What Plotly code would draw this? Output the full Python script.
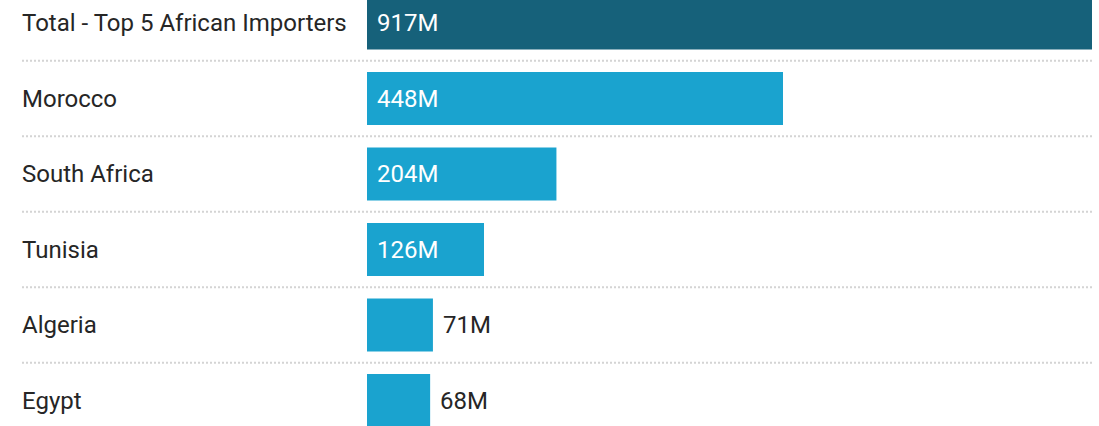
import plotly.graph_objects as go

# Import values, in millions
countries = ["Total - Top 5 African Importers", "Morocco", "South Africa",
             "Tunisia", "Algeria", "Egypt"]
values = [917, 448, 204, 126, 71, 68]
value_labels = ["917M", "448M", "204M", "126M", "71M", "68M"]
label_inside = [True, True, True, True, False, False]

DARK = "#16617a"
LIGHT = "#1aa3cf"
TEXT = "#262626"
FONT = "Roboto"
FS = 24

W, H = 1099, 426
ML, MR = 367, 7
plot_w = W - ML - MR
row_px = 75.5
first_center_px = 23

positions = list(range(len(countries)))
colors = [DARK] + [LIGHT] * (len(countries) - 1)

fig = go.Figure(go.Bar(
    x=values,
    y=positions,
    orientation="h",
    width=0.7,
    marker=dict(color=colors, line=dict(width=0)),
    hoverinfo="skip",
))

# Category names, left aligned in the margin
for i, name in enumerate(countries):
    fig.add_annotation(
        x=0, xref="paper", y=i, yref="y",
        text=name, showarrow=False, xanchor="left", yanchor="middle",
        xshift=-(ML - 20), font=dict(family=FONT, size=FS, color=TEXT),
    )

# Value labels: inside the bar when it is wide enough, otherwise after its end
for i, (v, lab, inside) in enumerate(zip(values, value_labels, label_inside)):
    fig.add_annotation(
        x=0 if inside else v, y=i, xref="x", yref="y",
        text=lab, showarrow=False, xanchor="left", yanchor="middle",
        xshift=8, font=dict(family=FONT, size=FS,
                            color="white" if inside else TEXT),
    )

# Dotted row separators
for i in range(len(countries) - 1):
    fig.add_shape(
        type="line", xref="paper", yref="y",
        x0=-(ML - 22) / plot_w, x1=1, y0=i + 0.5, y1=i + 0.5,
        line=dict(color="#d4d4d4", width=2, dash="2px,2px"),
        layer="below",
    )

span = H / row_px
top = -first_center_px / row_px
max_x = plot_w / ((783 - 367) / 448)

fig.update_layout(
    width=W, height=H,
    margin=dict(l=ML, r=MR, t=0, b=0),
    paper_bgcolor="white", plot_bgcolor="white",
    showlegend=False,
    xaxis=dict(range=[0, max_x], visible=False, fixedrange=True),
    yaxis=dict(range=[top + span, top], visible=False, fixedrange=True),
)

fig.write_html("out.html")
